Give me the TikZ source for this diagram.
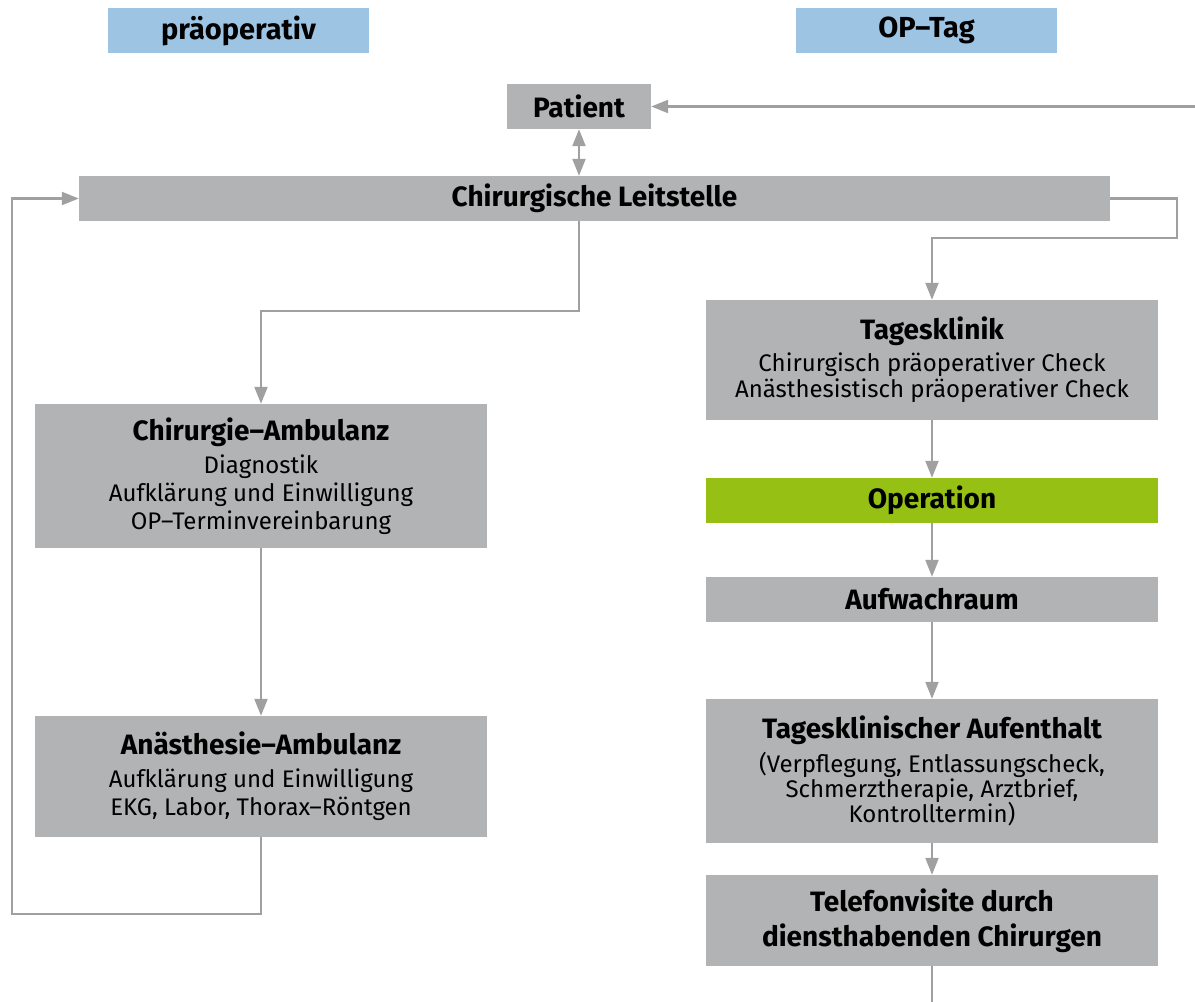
\documentclass[tikz,border=0pt]{standalone}
\usepackage{fontspec}
\setmainfont{Fira Sans}
\usetikzlibrary{positioning}
\usetikzlibrary{arrows.meta}
\definecolor{boxgrey}{RGB}{178,179,180}
\definecolor{linegrey}{RGB}{160,160,160}
\definecolor{headblue}{RGB}{158,196,228}
\definecolor{opgreen}{RGB}{150,192,20}
\tikzset{>={Triangle[length=17pt,width=13pt]}}
\tikzset{
  box/.style={fill=boxgrey, inner sep=0pt, align=center,
    font=\fontsize{24}{28}\selectfont},
  wide/.style={box, minimum width=452pt},
  head/.style={fill=headblue, inner sep=0pt, minimum width=261pt,
    minimum height=45pt, font=\fontsize{29}{32}\selectfont\bfseries},
  flow/.style={draw=linegrey, line width=2.2pt},
}
\newcommand{\ttl}[1]{{\fontsize{28}{32}\selectfont\bfseries #1}}

\begin{document}
\begin{tikzpicture}[x=1pt,y=-1pt]
\useasboundingbox (0,0) rectangle (1195,1002);

% Phase headers
\node[head] (prae) at (238.5,30.5) {präoperativ};
\node[head] (optag) at (926.5,30.5) {OP–Tag};

% Central nodes
\node[box, minimum width=144pt, minimum height=45pt] (patient) at (579,106.5) {\ttl{Patient}};
\node[box, minimum width=1031pt, minimum height=45pt] (leit) at (594.5,198.5) {\ttl{Chirurgische Leitstelle}};

% Left column
\node[wide, minimum height=144pt] (chamb) at (261,476)
  {\ttl{Chirurgie–Ambulanz}\\[5pt] Diagnostik\\ Aufklärung und Einwilligung\\ OP–Terminvereinbarung};
\node[wide, minimum height=121pt] (anamb) at (261,776.5)
  {\ttl{Anästhesie–Ambulanz}\\[5pt] Aufklärung und Einwilligung\\ EKG, Labor, Thorax–Röntgen};

% Right column
\node[wide, minimum height=120pt] (tkl) at (932,360)
  {\ttl{Tagesklinik}\\[4pt] Chirurgisch präoperativer Check\\[-2pt] Anästhesistisch präoperativer Check};
\node[wide, minimum height=45pt, fill=opgreen] (op) at (932,500.5) {\ttl{Operation}};
\node[wide, minimum height=45pt] (aufwach) at (932,599.5) {\ttl{Aufwachraum}};
\node[wide, minimum height=144pt] (aufent) at (932,771)
  {\ttl{Tagesklinischer Aufenthalt}\\[6pt] (Verpflegung, Entlassungscheck,\\[-3pt] Schmerztherapie, Arztbrief,\\[-3pt] Kontrolltermin)};
\node[wide, minimum height=91pt] (tele) at (932,920.5)
  {\ttl{Telefonvisite durch}\\[7pt] \ttl{diensthabenden Chirurgen}};

% Loose ends
\coordinate (ret) at (1195,106.5);
\coordinate (loopL) at (12,198.5);
\coordinate (loopR) at (1177,198.5);
\coordinate (out) at (932,1002);

% Connectors
\draw[flow,->] (ret) -- (patient);
\draw[flow,<->] (patient) -- (patient |- leit.north);
\draw[flow,->] (leit.south -| patient) -- ++(0,90) -| (chamb.north);
\draw[flow,->] (chamb) -- (anamb);
\draw[flow,->] (anamb.south) -- ++(0,77) -| (loopL) -- (leit.west);
\draw[flow,->] (leit.east) -- (loopR) -- (loopR |- 0,238) -| (tkl.north);
\draw[flow,->] (tkl) -- (op);
\draw[flow,->] (op) -- (aufwach);
\draw[flow,->] (aufwach) -- (aufent);
\draw[flow,->] (aufent) -- (tele);
\draw[flow] (tele) -- (out);

\end{tikzpicture}
\end{document}
